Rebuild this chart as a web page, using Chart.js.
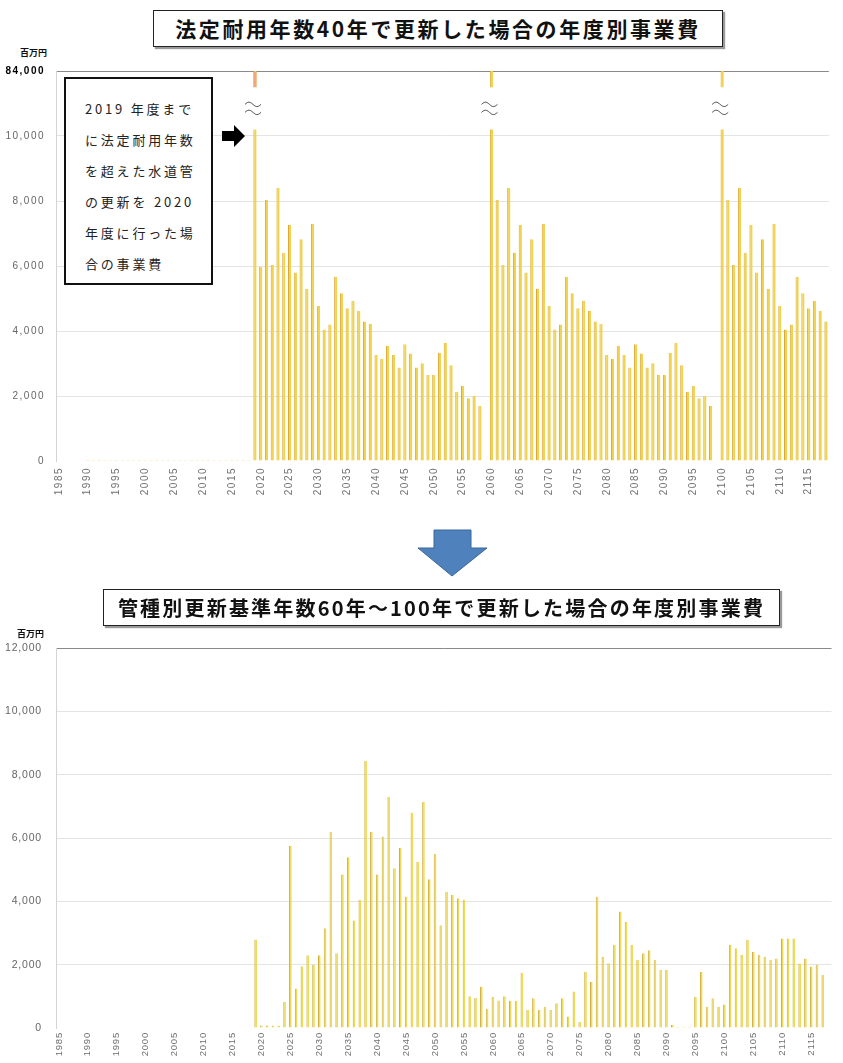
<!DOCTYPE html>
<html lang="ja">
<head>
<meta charset="utf-8">
<script src="https://cdn.jsdelivr.net/npm/chart.js@4.4.0/dist/chart.umd.min.js"></script>
<style>
  html, body { margin: 0; padding: 0; background: #fff; width: 843px; height: 1063px; overflow: hidden; }
  body { position: relative; font-family: "Noto Sans CJK JP", "Noto Sans", sans-serif; }
  .title { position: absolute; border: 1px solid #222; box-shadow: 2px 2px 1px #9a9a9a; background: #fff;
           font-weight: bold; color: #111; text-align: center; white-space: nowrap; }
  .unit { position: absolute; font-size: 9px; font-weight: bold; color: #111; }
  .note { position: absolute; left: 64px; top: 77px; width: 149px; height: 208px; border: 2px solid #111;
          background: #fff; font-size: 13px; line-height: 31px; letter-spacing: 2.8px; color: #222;
          padding: 14px 0 0 19px; box-sizing: border-box; white-space: nowrap; }
  canvas { position: absolute; left: 0; }
  svg { position: absolute; left: 0; top: 0; }
</style>
</head>
<body>
<div class="title" style="left:153px; top:10px; width:568px; height:35px; font-size:21px; line-height:35px; letter-spacing:2.6px;">法定耐用年数40年で更新した場合の年度別事業費</div>
<div class="unit" style="left:20px; top:46px;">百万円</div>
<canvas id="chartTop" width="844" height="447" style="top:54px;"></canvas>

<svg width="843" height="1063">
  <polygon points="222,131 234,131 234,125 245,136 234,147 234,141 222,141" fill="#000"/>
  <polygon points="434,530 471,530 471,548 487,548 452,576 418,548 434,548" fill="#4F81BD" stroke="#3B679C" stroke-width="1"/>
</svg>

<div class="title" style="left:103px; top:589px; width:675px; height:35px; font-size:20px; line-height:35px; letter-spacing:2.2px;">管種別更新基準年数60年～100年で更新した場合の年度別事業費</div>
<div class="unit" style="left:17px; top:627px;">百万円</div>
<canvas id="chartBottom" width="844" height="440" style="top:628px;"></canvas>

<div class="note">2019 年度まで<br>に法定耐用年数<br>を超えた水道管<br>の更新を 2020<br>年度に行った場<br>合の事業費</div>

<script>
// Fiscal years on the x axis (1985 .. 2118)
const years = [];
for (let y = 1985; y <= 2118; y++) years.push(String(y));

// Top chart: renewal at the 40-year legal service life (million yen).
// 84,000 bars are drawn on a broken axis.
const costLegalLife = [
  // 1985-1989
  0, 0, 0, 0, 0,
  // 1990-1999
  30, 30, 30, 30, 30, 30, 30, 30, 30, 30,
  // 2000-2009
  30, 30, 30, 30, 30, 30, 30, 30, 30, 30,
  // 2010-2018
  30, 30, 30, 30, 30, 30, 30, 30, 30,
  // 2019
  84000,
  // 2020-2029
  5980, 8030, 6030, 8410, 6410, 7260, 5800, 6820, 5300, 7290,
  // 2030-2039
  4770, 4050, 4200, 5670, 5160, 4700, 4930, 4620, 4290, 4220,
  // 2040-2049
  3260, 3140, 3550, 3260, 2880, 3590, 3310, 2880, 3010, 2650,
  // 2050-2059
  2650, 3330, 3640, 2950, 2130, 2310, 1930, 2000, 1690, 0,
  // 2060-2069
  84000, 8030, 6030, 8410, 6410, 7260, 5800, 6820, 5300, 7290,
  // 2070-2079
  4770, 4050, 4200, 5670, 5160, 4700, 4930, 4620, 4290, 4220,
  // 2080-2089
  3260, 3140, 3550, 3260, 2880, 3590, 3310, 2880, 3010, 2650,
  // 2090-2099
  2650, 3330, 3640, 2950, 2130, 2310, 1930, 2000, 1690, 0,
  // 2100-2109
  84000, 8030, 6030, 8410, 6410, 7260, 5800, 6820, 5300, 7290,
  // 2110-2118
  4770, 4050, 4200, 5670, 5160, 4700, 4930, 4620, 4290
];

// Bottom chart: renewal at 60-100 years depending on pipe type (million yen).
const costPipeType = [
  // 1985-2018
  0, 0, 0, 0, 0, 0, 0, 0, 0, 0, 0, 0, 0, 0, 0, 0, 0,
  0, 0, 0, 0, 0, 0, 0, 0, 0, 0, 0, 0, 0, 0, 0, 0, 0,
  // 2019
  2800,
  // 2020-2029
  80, 80, 80, 80, 830, 5750, 1250, 1950, 2300, 2000,
  // 2030-2039
  2300, 3150, 6200, 2360, 4850, 5400, 3400, 4050, 8450, 6200,
  // 2040-2049
  4850, 6050, 7300, 5050, 5700, 4150, 6800, 5250, 7150, 4700,
  // 2050-2059
  5500, 3250, 4300, 4200, 4100, 4050, 1000, 950, 1300, 600,
  // 2060-2069
  990, 870, 1000, 860, 850, 1750, 570, 940, 570, 670,
  // 2070-2079
  570, 780, 940, 360, 1150, 200, 1780, 1460, 4150, 2250,
  // 2080-2089
  2050, 2620, 3680, 3360, 2620, 2150, 2360, 2460, 2150, 1830,
  // 2090-2099
  1830, 95, 42, 42, 42, 990, 1780, 670, 940, 670,
  // 2100-2109
  740, 2620, 2520, 2310, 2780, 2410, 2310, 2250, 2150, 2200,
  // 2110-2118
  2830, 2830, 2830, 2040, 2200, 1940, 2010, 1680, null
];

const yTicksMax = 12000;
const brokenTopLabel = '84,000';

const TICK_FONT = '"Liberation Sans", Arial, sans-serif';

const tickVal = (c) => (c && c.tick ? c.tick.value : null);

// Spread tick glyphs a little, like the scanned originals.
function spacedTextPlugin(spacing) {
  return {
    id: 'spacedText',
    beforeDraw(chart) { chart.ctx.letterSpacing = spacing; },
    afterDraw(chart) { chart.ctx.letterSpacing = '0px'; },
  };
}

// Axis break: white gap + wavy "≈" over every bar taller than the axis max.
function axisBreakPlugin() {
  return {
    id: 'axisBreak',
    afterDatasetsDraw(chart) {
      const ys = chart.scales.y;
      const meta = chart.getDatasetMeta(0);
      const data = chart.data.datasets[0].data;
      const gapTop = ys.getPixelForValue(11500);
      const gapBottom = ys.getPixelForValue(10200);
      const ctx = chart.ctx;
      let first = true;
      ctx.save();
      data.forEach((v, i) => {
        if (v == null || v <= ys.max) return;
        const bar = meta.data[i];
        if (first) {
          ctx.fillStyle = '#F2A77C';
          ctx.fillRect(bar.x - bar.width / 2, chart.chartArea.top + 1, bar.width, gapTop - chart.chartArea.top);
          first = false;
        }
        ctx.fillStyle = '#fff';
        ctx.fillRect(bar.x - 10, gapTop, 20, gapBottom - gapTop);
        ctx.strokeStyle = '#333';
        ctx.lineWidth = 0.9;
        const cx = bar.x - 2;
        const cy = (gapTop + gapBottom) / 2;
        [-4, 4].forEach((dy) => {
          ctx.beginPath();
          for (let k = 0; k <= 20; k++) {
            const t = k / 20;
            const px = cx - 8 + t * 16;
            const py = cy + dy - 2.2 * Math.sin(2 * Math.PI * t);
            if (k === 0) ctx.moveTo(px, py); else ctx.lineTo(px, py);
          }
          ctx.stroke();
        });
      });
      ctx.restore();
    },
  };
}

function renderCostChart(canvas, values, opts = {}) {
  const {
    topLabel = null, labelPad = 11, labelSize = 10, spacing = '1.5px',
    xPad = 5, xSize = 10, barFill, barEdge, barPct,
  } = opts;
  const plugins = [spacedTextPlugin(spacing)];
  if (topLabel) plugins.push(axisBreakPlugin());
  return new Chart(canvas, {
    type: 'bar',
    data: {
      labels: years,
      datasets: [{
        data: values,
        backgroundColor: barFill,
        borderColor: barEdge,
        borderWidth: { left: 1, right: 0, top: 0, bottom: 0 },
        barPercentage: 1,
        categoryPercentage: barPct,
      }],
    },
    options: {
      responsive: false, animation: false,
      layout: { padding: 0 },
      scales: {
        x: {
          grid: { display: false, drawTicks: false }, border: { display: false },
          ticks: {
            autoSkip: false, minRotation: 90, maxRotation: 90, padding: xPad,
            color: '#707070', font: { family: TICK_FONT, size: xSize },
            callback: (v, i) => (Number(years[i]) % 5 === 0 ? years[i] : ''),
          },
          afterFit: (scale) => { scale.height = 40; },
        },
        y: {
          min: 0, max: yTicksMax,
          grid: {
            drawTicks: false,
            color: (c) => {
              const v = tickVal(c);
              return v === yTicksMax ? '#8a8a8a' : v === 0 ? 'rgba(0,0,0,0)' : '#e4e4e4';
            },
          },
          border: { display: true, color: '#d4d4d4' },
          ticks: {
            stepSize: 2000, padding: labelPad,
            color: (c) => (topLabel && tickVal(c) === yTicksMax ? '#000' : '#666'),
            font: (c) => (topLabel && tickVal(c) === yTicksMax
              ? { family: TICK_FONT, size: 10, weight: 'bold' }
              : { family: TICK_FONT, size: labelSize }),
            callback: (v) => (topLabel && v === yTicksMax ? topLabel : v.toLocaleString('en-US')),
          },
          afterFit: (scale) => { scale.width = 56; },
        },
      },
      plugins: { legend: { display: false }, tooltip: { enabled: false } },
    },
    plugins,
  });
}

renderCostChart(document.getElementById('chartTop'), costLegalLife, {
  topLabel: brokenTopLabel, labelPad: 11, labelSize: 10, spacing: '1.5px', xPad: 6, xSize: 10,
  barFill: '#F1D44C', barEdge: '#DCA83A', barPct: 0.56,
});
renderCostChart(document.getElementById('chartBottom'), costPipeType, {
  labelPad: 14, labelSize: 10.5, spacing: '0.8px', xPad: 4, xSize: 9.5,
  barFill: '#EFDB55', barEdge: '#CFAE3A', barPct: 0.46,
});
</script>
</body>
</html>
